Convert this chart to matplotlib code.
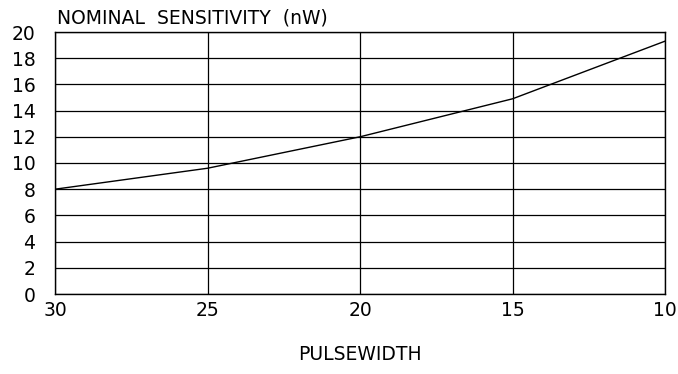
import matplotlib
matplotlib.use('Agg')
import matplotlib.pyplot as plt

# leitura do gráfico: largura de pulso x sensibilidade nominal
pulsewidth = [30, 25, 20, 15, 10]
sensitivity = [8.0, 9.6, 12.0, 14.9, 19.3]
x_ticks = [30, 25, 20, 15, 10]
y_ticks = list(range(0, 21, 2))

fig = plt.figure(figsize=(6.78, 3.74), dpi=100)
ax = fig.add_axes([55 / 678, 80 / 374, 610 / 678, 262 / 374])

ax.plot(pulsewidth, sensitivity, color='black', linewidth=1.0)

ax.set_xlim(30, 10)
ax.set_ylim(0, 20)
ax.set_xticks(x_ticks)
ax.set_yticks(y_ticks)
ax.tick_params(length=0, labelsize=13.5)
ax.tick_params(axis='x', pad=5)
ax.tick_params(axis='y', pad=14)
ax.grid(True, color='black', linewidth=0.9)
for s in ax.spines.values():
    s.set_linewidth(1.0)

fig.text(57 / 678, 1 - 18 / 374, 'NOMINAL  SENSITIVITY  (nW)', fontsize=13.5,
         ha='left', va='center')
fig.text(360 / 678, 1 - 355 / 374, 'PULSEWIDTH', fontsize=13.5,
         ha='center', va='center')

plt.savefig('out.png', dpi=100)
